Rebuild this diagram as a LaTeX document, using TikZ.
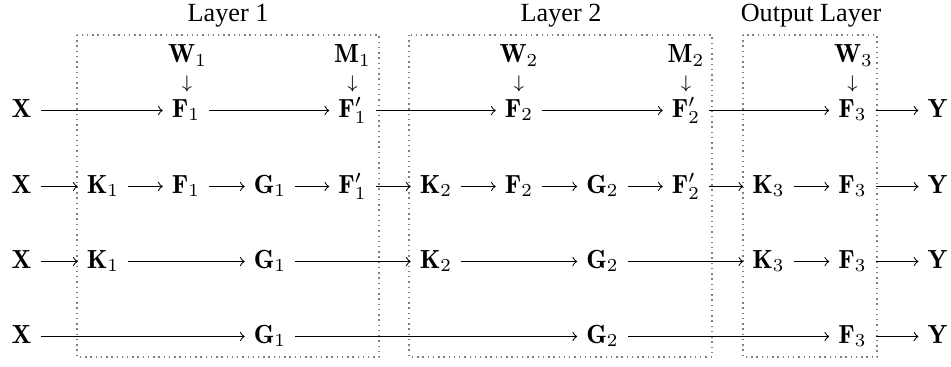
\documentclass[tikz,border=0pt]{standalone}
\usepackage{fontspec}
\newfontfamily\lblfont{Liberation Serif}
\begin{document}
\begin{tikzpicture}[x=0.3817pt,y=-0.3817pt,
  m/.style={inner xsep=3.3pt,inner ysep=0pt,text height=7.5pt,text depth=2.5pt,anchor=center},
  ar/.style={->,line width=0.4pt},
  lay/.style={draw=gray,line width=0.55pt,dash pattern=on 0.55pt off 1.45pt},
  lbl/.style={font=\lblfont,anchor=base,inner sep=0pt},
  top/.style={anchor=base,inner sep=0pt},
  dn/.style={inner sep=0pt,anchor=center}]
\useasboundingbox (0,0) rectangle (951,367);
% layer boxes
\draw[lay] (77,35) rectangle (379,357);
\draw[lay] (409,35) rectangle (712,357);
\draw[lay] (743,35) rectangle (877,357);
\node[lbl] (l1) at (228,21) {Layer 1};
\node[lbl] (l2) at (561,21) {Layer 2};
\node[lbl] (l3) at (811,21) {Output Layer};
% weights
\node[top] (w1) at (187.5,63) {$\mathbf{W}_1$};
\node[top] (m1) at (352.5,63) {$\mathbf{M}_1$};
\node[top] (w2) at (519,63) {$\mathbf{W}_2$};
\node[top] (m2) at (686,63) {$\mathbf{M}_2$};
\node[top] (w3) at (853.5,63) {$\mathbf{W}_3$};
\node[dn] (d1) at (187,84) {$\scriptstyle\downarrow$};
\node[dn] (d2) at (352.5,84) {$\scriptstyle\downarrow$};
\node[dn] (d3) at (519,84) {$\scriptstyle\downarrow$};
\node[dn] (d4) at (686,84) {$\scriptstyle\downarrow$};
\node[dn] (d5) at (852.5,84) {$\scriptstyle\downarrow$};
% row 1
\node[m] (ax) at (21.5,110.5) {$\mathbf{X}$};
\node[m] (af1) at (186,110.5) {$\mathbf{F}_1$};
\node[m] (afp1) at (352.5,110.5) {$\mathbf{F}'_1$};
\node[m] (af2) at (519,110.5) {$\mathbf{F}_2$};
\node[m] (afp2) at (686,110.5) {$\mathbf{F}'_2$};
\node[m] (af3) at (852.5,110.5) {$\mathbf{F}_3$};
\node[m] (ay) at (937.5,110.5) {$\mathbf{Y}$};
\draw[ar] (ax) -- (af1);
\draw[ar] (af1) -- (afp1);
\draw[ar] (afp1) -- (af2);
\draw[ar] (af2) -- (afp2);
\draw[ar] (afp2) -- (af3);
\draw[ar] (af3) -- (ay);
% row 2
\node[m] (bx) at (21.5,186.5) {$\mathbf{X}$};
\node[m] (bk1) at (103,186.5) {$\mathbf{K}_1$};
\node[m] (bf1) at (186,186.5) {$\mathbf{F}_1$};
\node[m] (bg1) at (270,186.5) {$\mathbf{G}_1$};
\node[m] (bfp1) at (352.5,186.5) {$\mathbf{F}'_1$};
\node[m] (bk2) at (436,186.5) {$\mathbf{K}_2$};
\node[m] (bf2) at (519,186.5) {$\mathbf{F}_2$};
\node[m] (bg2) at (602.5,186.5) {$\mathbf{G}_2$};
\node[m] (bfp2) at (686,186.5) {$\mathbf{F}'_2$};
\node[m] (bk3) at (768.5,186.5) {$\mathbf{K}_3$};
\node[m] (bf3) at (852.5,186.5) {$\mathbf{F}_3$};
\node[m] (by) at (937.5,186.5) {$\mathbf{Y}$};
\draw[ar] (bx) -- (bk1);
\draw[ar] (bk1) -- (bf1);
\draw[ar] (bf1) -- (bg1);
\draw[ar] (bg1) -- (bfp1);
\draw[ar] (bfp1) -- (bk2);
\draw[ar] (bk2) -- (bf2);
\draw[ar] (bf2) -- (bg2);
\draw[ar] (bg2) -- (bfp2);
\draw[ar] (bfp2) -- (bk3);
\draw[ar] (bk3) -- (bf3);
\draw[ar] (bf3) -- (by);
% row 3
\node[m] (cx) at (21.5,261.5) {$\mathbf{X}$};
\node[m] (ck1) at (103,261.5) {$\mathbf{K}_1$};
\node[m] (cg1) at (270,261.5) {$\mathbf{G}_1$};
\node[m] (ck2) at (436,261.5) {$\mathbf{K}_2$};
\node[m] (cg2) at (602.5,261.5) {$\mathbf{G}_2$};
\node[m] (ck3) at (768.5,261.5) {$\mathbf{K}_3$};
\node[m] (cf3) at (852.5,261.5) {$\mathbf{F}_3$};
\node[m] (cy) at (937.5,261.5) {$\mathbf{Y}$};
\draw[ar] (cx) -- (ck1);
\draw[ar] (ck1) -- (cg1);
\draw[ar] (cg1) -- (ck2);
\draw[ar] (ck2) -- (cg2);
\draw[ar] (cg2) -- (ck3);
\draw[ar] (ck3) -- (cf3);
\draw[ar] (cf3) -- (cy);
% row 4
\node[m] (dx) at (21.5,336.5) {$\mathbf{X}$};
\node[m] (dg1) at (270,336.5) {$\mathbf{G}_1$};
\node[m] (dg2) at (602.5,336.5) {$\mathbf{G}_2$};
\node[m] (df3) at (852.5,336.5) {$\mathbf{F}_3$};
\node[m] (dy) at (937.5,336.5) {$\mathbf{Y}$};
\draw[ar] (dx) -- (dg1);
\draw[ar] (dg1) -- (dg2);
\draw[ar] (dg2) -- (df3);
\draw[ar] (df3) -- (dy);
\end{tikzpicture}
\end{document}
